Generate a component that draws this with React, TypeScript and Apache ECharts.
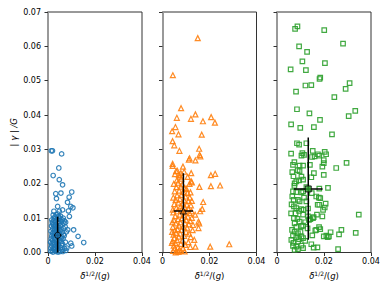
import React, { useEffect, useRef } from "react";
import * as echarts from "echarts";

const FONT = "DejaVu Sans";
const COLORS = ["#1f77b4", "#ff7f0e", "#2ca02c"];
const SYMBOLS = ["circle", "triangle", "rect"];

const xTicks = [0, 0.02, 0.04];
const yTicks = [0, 0.01, 0.02, 0.03, 0.04, 0.05, 0.06, 0.07];

const bluePoints: number[][] = [
  [0.0018,0.0005],[0.0022,0.0012],[0.0015,0.0020],[0.0025,0.0028],[0.0019,0.0035],[0.0028,0.0041],[0.0016,0.0048],[0.0031,0.0052],[0.0022,0.0058],[0.0035,0.0063],[0.0020,0.0069],[0.0027,0.0075],[0.0033,0.0081],[0.0018,0.0088],[0.0025,0.0093],[0.0038,0.0097],[0.0030,0.0104],[0.0022,0.0109],[0.0042,0.0112],[0.0034,0.0003],[0.0041,0.0010],[0.0029,0.0016],[0.0045,0.0022],[0.0037,0.0030],[0.0050,0.0036],[0.0043,0.0044],[0.0026,0.0050],[0.0048,0.0055],[0.0040,0.0061],[0.0055,0.0067],[0.0046,0.0072],[0.0052,0.0078],[0.0044,0.0086],[0.0058,0.0090],[0.0050,0.0099],[0.0060,0.0008],[0.0054,0.0014],[0.0062,0.0025],[0.0056,0.0032],[0.0064,0.0040],[0.0058,0.0047],[0.0066,0.0053],[0.0060,0.0060],[0.0068,0.0085],[0.0065,0.0070],[0.0021,0.0001],[0.0030,0.0007],[0.0012,0.0013],[0.0039,0.0018],[0.0017,0.0026],[0.0047,0.0006],[0.0014,0.0040],[0.0033,0.0037],[0.0024,0.0044],[0.0036,0.0048],[0.0019,0.0055],[0.0044,0.0058],[0.0030,0.0066],[0.0013,0.0062],[0.0051,0.0064],[0.0023,0.0080],[0.0040,0.0076],[0.0015,0.0077],[0.0048,0.0084],[0.0031,0.0090],[0.0026,0.0100],[0.0045,0.0105],[0.0035,0.0110],[0.0053,0.0106],[0.0016,0.0095],[0.0071,0.0012],[0.0074,0.0030],[0.0069,0.0049],[0.0057,0.0021],[0.0052,0.0003],[0.0038,0.0025],[0.0027,0.0022],[0.0011,0.0030],[0.0042,0.0034],[0.0061,0.0095],[0.0028,0.0059],[0.0039,0.0068],[0.0047,0.0091],[0.0020,0.0084],[0.0034,0.0072],[0.0056,0.0041],[0.0012,0.0004],[0.0025,0.0009],[0.0043,0.0001],[0.0032,0.0012],[0.0063,0.0003],[0.0076,0.0006],[0.0073,0.0075],[0.0078,0.0060],
  [0.0014,0.0296],[0.0019,0.0296],[0.0058,0.0287],[0.0046,0.0246],[0.0022,0.0224],[0.0048,0.0212],[0.0062,0.0197],[0.0033,0.0171],[0.0055,0.0173],[0.0101,0.0176],[0.0036,0.0157],[0.0090,0.0161],[0.0083,0.0146],[0.0097,0.0134],[0.0106,0.0130],[0.0041,0.0134],[0.0062,0.0124],[0.0087,0.0121],[0.0025,0.0120],[0.0048,0.0120],[0.0091,0.0105],[0.0065,0.0100],[0.0109,0.0066],[0.0084,0.0066],[0.0128,0.0047],[0.0152,0.0029],[0.0097,0.0027],[0.0101,0.0019],[0.0080,0.0013],[0.0070,0.0092],[0.0075,0.0088]
];

const orangePoints: number[][] = [
  [0.0045,0.0005],[0.0052,0.0012],[0.0060,0.0003],[0.0048,0.0020],[0.0066,0.0015],[0.0055,0.0027],[0.0072,0.0008],[0.0043,0.0033],[0.0062,0.0036],[0.0078,0.0025],[0.0050,0.0042],[0.0069,0.0046],[0.0085,0.0035],[0.0047,0.0052],[0.0058,0.0057],[0.0075,0.0055],[0.0092,0.0048],[0.0053,0.0065],[0.0064,0.0068],[0.0081,0.0066],[0.0100,0.0060],[0.0044,0.0074],[0.0070,0.0078],[0.0088,0.0075],[0.0105,0.0072],[0.0057,0.0085],[0.0076,0.0088],[0.0095,0.0085],[0.0112,0.0082],[0.0049,0.0094],[0.0066,0.0097],[0.0083,0.0100],[0.0101,0.0095],[0.0118,0.0092],[0.0054,0.0106],[0.0073,0.0110],[0.0091,0.0108],[0.0108,0.0104],[0.0125,0.0101],[0.0046,0.0117],[0.0063,0.0120],[0.0080,0.0124],[0.0098,0.0118],[0.0115,0.0115],[0.0059,0.0130],[0.0077,0.0134],[0.0095,0.0131],[0.0110,0.0128],[0.0050,0.0141],[0.0068,0.0145],[0.0086,0.0142],[0.0104,0.0139],[0.0121,0.0137],[0.0056,0.0153],[0.0074,0.0156],[0.0092,0.0152],[0.0110,0.0150],[0.0062,0.0166],[0.0080,0.0168],[0.0098,0.0163],[0.0116,0.0160],[0.0052,0.0178],[0.0071,0.0180],[0.0089,0.0176],[0.0107,0.0173],[0.0059,0.0190],[0.0077,0.0192],[0.0095,0.0188],[0.0048,0.0200],[0.0066,0.0203],[0.0084,0.0198],[0.0102,0.0185],[0.0061,0.0210],[0.0080,0.0215],[0.0044,0.0125],[0.0042,0.0088],[0.0041,0.0060],[0.0040,0.0028],[0.0087,0.0012],[0.0097,0.0022],[0.0110,0.0030],[0.0120,0.0045],[0.0128,0.0065],[0.0113,0.0055],[0.0056,0.0000],[0.0068,0.0002],[0.0079,0.0005],[0.0094,0.0003],[0.0046,0.0160],[0.0130,0.0080],[0.0124,0.0120],[0.0063,0.0238],[0.0070,0.0226],[0.0087,0.0250],[0.0092,0.0235],[0.0107,0.0220],[0.0115,0.0200],[0.0119,0.0175],[0.0125,0.0150],[0.0053,0.0228],
  [0.0150,0.0624],[0.0044,0.0516],[0.0079,0.0420],[0.0061,0.0392],[0.0121,0.0389],[0.0140,0.0402],[0.0207,0.0394],[0.0172,0.0382],[0.0223,0.0378],[0.0055,0.0365],[0.0041,0.0353],[0.0068,0.0344],[0.0167,0.0343],[0.0043,0.0324],[0.0050,0.0312],[0.0072,0.0296],[0.0156,0.0302],[0.0161,0.0280],[0.0158,0.0284],[0.0112,0.0270],[0.0115,0.0274],[0.0140,0.0268],[0.0043,0.0258],[0.0043,0.0252],[0.0058,0.0237],[0.0078,0.0231],[0.0122,0.0231],[0.0074,0.0221],[0.0206,0.0225],[0.0224,0.0229],[0.0245,0.0195],[0.0206,0.0193],[0.0157,0.0191],[0.0122,0.0207],[0.0125,0.0204],[0.0173,0.0147],[0.0169,0.0127],[0.0160,0.0120],[0.0139,0.0110],[0.0153,0.0090],[0.0156,0.0085],[0.0153,0.0071],[0.0135,0.0037],[0.0140,0.0017],[0.0203,0.0017],[0.0284,0.0024],[0.0118,0.0016]
];

const greenPoints: number[][] = [
  [0.0077,0.0651],[0.0087,0.0658],[0.0201,0.0647],[0.0281,0.0608],[0.0094,0.0600],[0.0128,0.0584],[0.0108,0.0556],[0.0204,0.0551],[0.0058,0.0533],[0.0123,0.0531],[0.0184,0.0509],[0.0181,0.0505],[0.0309,0.0493],[0.0121,0.0486],[0.0146,0.0487],[0.0292,0.0476],[0.0081,0.0468],[0.0244,0.0452],[0.0085,0.0417],[0.0333,0.0412],[0.0138,0.0405],[0.0305,0.0397],[0.0183,0.0386],[0.0060,0.0373],[0.0099,0.0363],[0.0157,0.0365],[0.0234,0.0344],[0.0085,0.0318],[0.0094,0.0314],[0.0125,0.0318],[0.0152,0.0296],[0.0203,0.0293],[0.0209,0.0286],[0.0060,0.0288],[0.0108,0.0289],[0.0115,0.0284],[0.0104,0.0282],[0.0149,0.0278],[0.0174,0.0286],[0.0180,0.0282],[0.0199,0.0269],[0.0199,0.0260],[0.0296,0.0261],[0.0074,0.0263],[0.0068,0.0255],[0.0096,0.0253],[0.0111,0.0253],[0.0193,0.0250],[0.0252,0.0246],[0.0065,0.0234],[0.0096,0.0237],[0.0157,0.0231],[0.0199,0.0226],[0.0146,0.0219],[0.0104,0.0221],[0.0082,0.0207],[0.0094,0.0210],[0.0111,0.0212],[0.0075,0.0201],[0.0074,0.0194],[0.0217,0.0188],[0.0180,0.0186],[0.0068,0.0178],[0.0082,0.0176],[0.0104,0.0175],[0.0111,0.0178],[0.0148,0.0173],[0.0065,0.0163],[0.0167,0.0163],[0.0178,0.0160],[0.0071,0.0153],[0.0089,0.0153],[0.0096,0.0149],[0.0125,0.0149],[0.0184,0.0158],[0.0207,0.0142],[0.0173,0.0139],[0.0180,0.0139],[0.0072,0.0134],[0.0082,0.0129],[0.0104,0.0126],[0.0094,0.0121],[0.0113,0.0124],[0.0132,0.0128],[0.0203,0.0131],[0.0196,0.0124],[0.0348,0.0110],[0.0060,0.0114],[0.0079,0.0114],[0.0111,0.0110],[0.0132,0.0105],[0.0153,0.0100],[0.0156,0.0103],[0.0193,0.0105],[0.0136,0.0095],[0.0142,0.0097],[0.0096,0.0090],[0.0075,0.0085],[0.0111,0.0078],[0.0082,0.0075],[0.0104,0.0077],[0.0179,0.0074],[0.0184,0.0068],[0.0167,0.0066],[0.0163,0.0064],[0.0274,0.0066],[0.0228,0.0059],[0.0335,0.0057],[0.0264,0.0053],[0.0221,0.0047],[0.0210,0.0049],[0.0199,0.0047],[0.0216,0.0045],[0.0064,0.0066],[0.0075,0.0061],[0.0089,0.0056],[0.0068,0.0049],[0.0082,0.0045],[0.0104,0.0047],[0.0061,0.0037],[0.0094,0.0039],[0.0111,0.0042],[0.0068,0.0019],[0.0082,0.0017],[0.0104,0.0020],[0.0089,0.0010],[0.0111,0.0013],[0.0075,0.0008],[0.0146,0.0024],[0.0172,0.0015],[0.0156,0.0014],[0.0260,0.0010],[0.0070,0.0028],[0.0090,0.0032],[0.0120,0.0034],[0.0072,0.0100],[0.0087,0.0098],[0.0100,0.0060],[0.0120,0.0088],[0.0130,0.0070],[0.0115,0.0160],[0.0125,0.0190],[0.0070,0.0222],[0.0088,0.0240],[0.0160,0.0280],[0.0140,0.0255],[0.0062,0.0140],[0.0170,0.0110],[0.0150,0.0050]
];

// centre [x, y], x range [lo, hi], y range [lo, hi]
const centers = [[0.0041, 0.0050], [0.0089, 0.0121], [0.0133, 0.0185]];
const xErr = [[0.0026, 0.0057], [0.0048, 0.0130], [0.0072, 0.0194]];
const yErr = [[0.0000, 0.0104], [0.0016, 0.0231], [0.0037, 0.0335]];

const panels = [bluePoints, orangePoints, greenPoints];
const gridLefts = [48, 162.5, 277];
const GRID_W = 94;

export default function App() {
  const ref = useRef<HTMLDivElement>(null);
  useEffect(() => {
    if (!ref.current) return;
    const chart = echarts.init(ref.current, null, { renderer: "svg" });
    const grids = gridLefts.map((l) => ({
      left: l, top: 12, width: GRID_W, height: 240.5,
      show: true, borderColor: "#333", borderWidth: 1, backgroundColor: "transparent",
    }));
    const xAxes = gridLefts.map((_, i) => ({
      type: "value", gridIndex: i, min: 0, max: 0.04, interval: 0.02,
      name: "{i|δ}{s|1/2}{n|/(}{i|g}{n|)}",
      nameLocation: "middle", nameGap: 17,
      nameTextStyle: {
        rich: {
          i: { fontFamily: FONT, fontSize: 8.5, fontStyle: "italic", color: "#000" },
          n: { fontFamily: FONT, fontSize: 8.5, color: "#000" },
          s: { fontFamily: FONT, fontSize: 6, color: "#000", padding: [0, 0, 5, 0] },
        },
      },
      axisLine: { show: true, lineStyle: { color: "#333", width: 1 } },
      axisTick: { show: true, length: 3.5, lineStyle: { color: "#333" } },
      axisLabel: {
        show: true, margin: 5, fontFamily: FONT, fontSize: 8, color: "#000",
        formatter: (v: number) => (v === 0 ? "0" : v.toFixed(2)),
        customValues: xTicks,
      },
      splitLine: { show: false },
    }));
    const yAxes = gridLefts.map((_, i) => ({
      type: "value", gridIndex: i, min: 0, max: 0.07, interval: 0.01,
      name: i === 0 ? "| γ | /G" : "",
      nameLocation: "middle", nameGap: 30, nameRotate: 90,
      nameTextStyle: { fontFamily: FONT, fontSize: 8.5, fontStyle: "italic", color: "#000" },
      axisLine: { show: true, lineStyle: { color: "#999", width: 2 } },
      axisTick: { show: true, length: 3.5, lineStyle: { color: "#333" } },
      axisLabel: {
        show: i === 0, margin: 7, fontFamily: FONT, fontSize: 8, color: "#000",
        formatter: (v: number) => v.toFixed(2),
        customValues: yTicks,
      },
      splitLine: { show: false },
    }));
    const series: any[] = [];
    panels.forEach((pts, i) => {
      series.push({
        type: "scatter", xAxisIndex: i, yAxisIndex: i, data: pts,
        symbol: SYMBOLS[i], symbolSize: i === 1 ? 5 : 4.5,
        itemStyle: { color: "rgba(0,0,0,0)", borderColor: COLORS[i], borderWidth: 1.2, opacity: 0.9 },
        z: 2,
      });
      const [cx, cy] = centers[i];
      series.push({
        type: "line", xAxisIndex: i, yAxisIndex: i,
        data: [[cx, yErr[i][0]], [cx, yErr[i][1]]],
        symbol: "none", lineStyle: { color: "#000", width: 1.5 }, z: 5,
      });
      series.push({
        type: "line", xAxisIndex: i, yAxisIndex: i,
        data: [[xErr[i][0], cy], [xErr[i][1], cy]],
        symbol: "none", lineStyle: { color: "#000", width: 1.5 }, z: 5,
      });
      series.push({
        type: "scatter", xAxisIndex: i, yAxisIndex: i, data: [[cx, cy]],
        symbol: SYMBOLS[i], symbolSize: 6,
        itemStyle: { color: COLORS[i], borderColor: "#000", borderWidth: 1 },
        z: 6,
      });
    });
    chart.setOption({
      animation: false,
      grid: grids,
      xAxis: xAxes,
      yAxis: yAxes,
      series,
    });
    return () => chart.dispose();
  }, []);
  return <div ref={ref} style={{ width: 390, height: 293, position: "absolute", left: 0, top: 0 }} />;
}
